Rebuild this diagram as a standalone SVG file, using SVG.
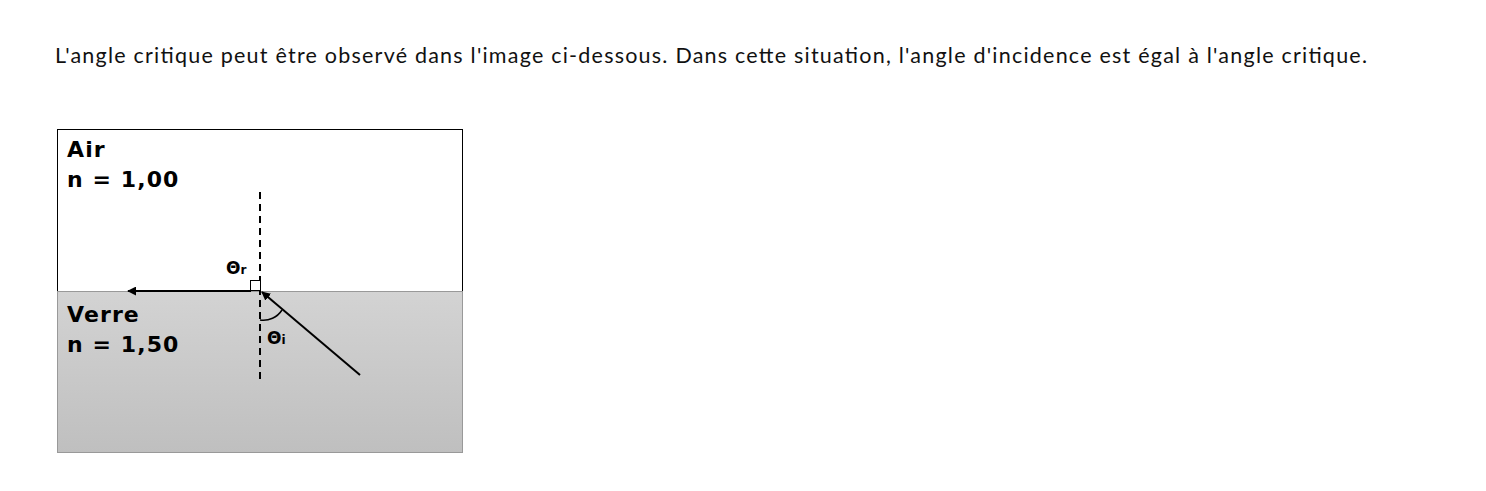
<svg xmlns="http://www.w3.org/2000/svg" width="1486" height="491" viewBox="0 0 1486 491">
<style>
.cap{font-family:"Lato","Open Sans",sans-serif;font-size:21.5px;fill:#111}
.lab{font-family:"DejaVu Sans",Verdana,sans-serif;font-weight:bold;font-size:22px;letter-spacing:1.1px;fill:#000}
.th{font-family:"DejaVu Sans",Verdana,sans-serif;font-weight:bold;font-size:17px;fill:#000}
.sub{font-size:12px}
.ray{stroke:#000;stroke-width:2;fill:none}
</style>
<defs>
<linearGradient id="glass" x1="0" y1="0" x2="0" y2="1">
<stop offset="0" stop-color="#d3d3d3"/>
<stop offset="1" stop-color="#bfbfbf"/>
</linearGradient>
<marker id="ah" viewBox="0 0 10 10" refX="9" refY="5" markerWidth="4.5" markerHeight="4.5" orient="auto" markerUnits="strokeWidth">
<path d="M0,0 L10,5 L0,10 z" fill="#000"/>
</marker>
</defs>
<rect width="1486" height="491" fill="#fff"/>
<text class="cap" x="55" y="63" textLength="1312">L'angle critique peut être observé dans l'image ci-dessous. Dans cette situation, l'angle d'incidence est égal à l'angle critique.</text>
<g id="air">
<rect x="57.5" y="129.5" width="405" height="162" fill="#fff" stroke="#000" stroke-width="1"/>
<text class="lab" x="67" y="157">Air</text>
<text class="lab" x="67" y="187">n = 1,00</text>
</g>
<g id="verre">
<rect x="57.5" y="291.5" width="405" height="161" fill="url(#glass)" stroke="#999" stroke-width="1"/>
<text class="lab" x="67" y="322">Verre</text>
<text class="lab" x="67" y="352">n = 1,50</text>
</g>
<g id="connectors">
<line x1="260" y1="192" x2="260" y2="384" stroke="#000" stroke-width="2" stroke-dasharray="7,5"/>
<line class="ray" x1="360" y1="375" x2="262" y2="292" marker-end="url(#ah)"/>
<line class="ray" x1="251" y1="291" x2="128" y2="291" marker-end="url(#ah)"/>
<rect x="250.5" y="280.5" width="10" height="10" fill="#fff" stroke="#000" stroke-width="1"/>
<path d="M260,320 A22,22 0 0 0 282,310" stroke="#000" stroke-width="1.5" fill="none"/>
</g>
<g id="labels">
<text class="th" x="226" y="274">Θ<tspan class="sub">r</tspan></text>
<text class="th" x="267" y="344">Θ<tspan class="sub">i</tspan></text>
</g>
</svg>
